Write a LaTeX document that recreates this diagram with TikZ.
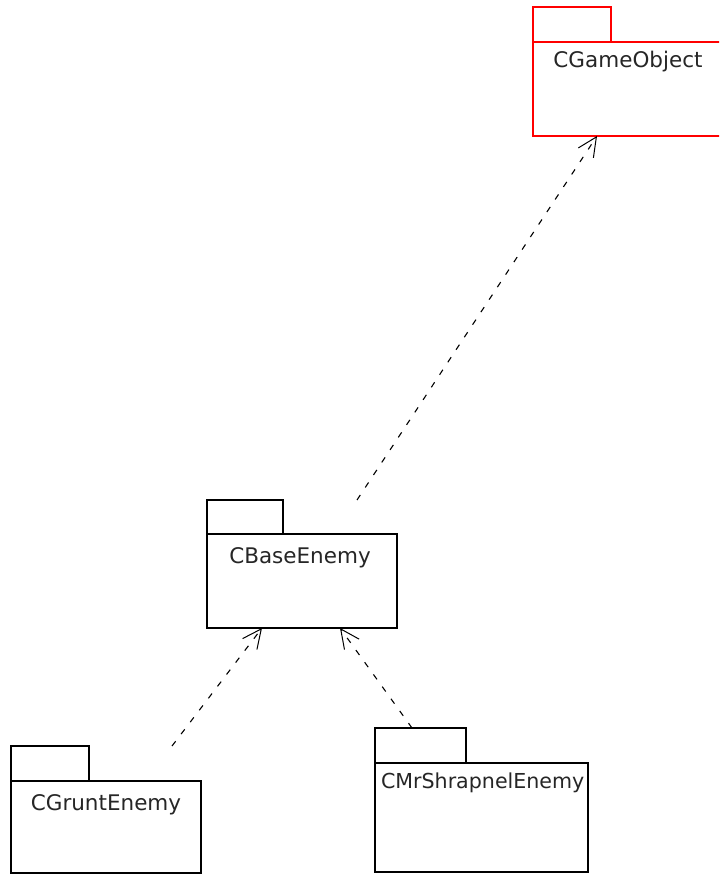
\documentclass[tikz,border=0pt]{standalone}
\usepackage{fontspec}
\setmainfont{DejaVu Sans}
\usetikzlibrary{arrows.meta,calc}
\begin{document}
\begin{tikzpicture}[x=1pt,y=-1pt,
  pkgbox/.style={draw=black,line width=1.2pt,fill=white,inner sep=0pt,outer sep=0pt,anchor=north west},
  redbox/.style={pkgbox,draw=red},
  pkglabel/.style={inner sep=0pt,outer sep=0pt,text=black!85,font=\fontsize{21.5}{25}\selectfont},
  dep/.style={draw=black,line width=1.1pt,dash pattern=on 6pt off 9pt,
    -{Straight Barb[length=19pt,width=18pt,line width=1pt]}}]
\useasboundingbox (0,0) rectangle (719,874);
\begin{scope}
\clip (0,0) rectangle (719,874);
% CGameObject
\node[redbox,minimum width=78pt,minimum height=35pt] (gameTab) at (533,7) {};
\node[redbox,minimum width=190pt,minimum height=94pt] (gameBody) at (533,42) {};
\node[pkglabel,anchor=base] (gameLbl) at (628,68) {CGameObject};
% CBaseEnemy
\node[pkgbox,minimum width=76pt,minimum height=34pt] (baseTab) at (207,500) {};
\node[pkgbox,minimum width=190pt,minimum height=94pt] (baseBody) at (207,534) {};
\node[pkglabel,anchor=base] (baseLbl) at (300,563) {CBaseEnemy};
% CGruntEnemy
\node[pkgbox,minimum width=78pt,minimum height=35pt] (gruntTab) at (11,746) {};
\node[pkgbox,minimum width=190pt,minimum height=92pt] (gruntBody) at (11,781) {};
\node[pkglabel,anchor=base] (gruntLbl) at (106,810) {CGruntEnemy};
% CMrShrapnelEnemy
\node[pkgbox,minimum width=91pt,minimum height=35pt] (shrapTab) at (375,728) {};
\node[pkgbox,minimum width=213pt,minimum height=109pt] (shrapBody) at (375,763) {};
\node[pkglabel,anchor=base west,font=\fontsize{20.6}{25}\selectfont] (shrapLbl) at (381,788) {CMrShrapnelEnemy};
% connector ends
\coordinate (baseTop) at ($(baseTab.north west)+(150,0)$);
\coordinate (gameIn) at ($(gameBody.south west)+(64,0)$);
\coordinate (gruntTop) at ($(gruntTab.north west)+(161,0)$);
\coordinate (baseInL) at ($(baseBody.south west)+(55,0)$);
\coordinate (shrapTop) at ($(shrapTab.north west)+(37,0)$);
\coordinate (baseInR) at ($(baseBody.south west)+(133,0)$);
\draw[dep] (baseTop) -- (gameIn);
\draw[dep] (gruntTop) -- (baseInL);
\draw[dep] (shrapTop) -- (baseInR);
\end{scope}
\end{tikzpicture}
\end{document}
